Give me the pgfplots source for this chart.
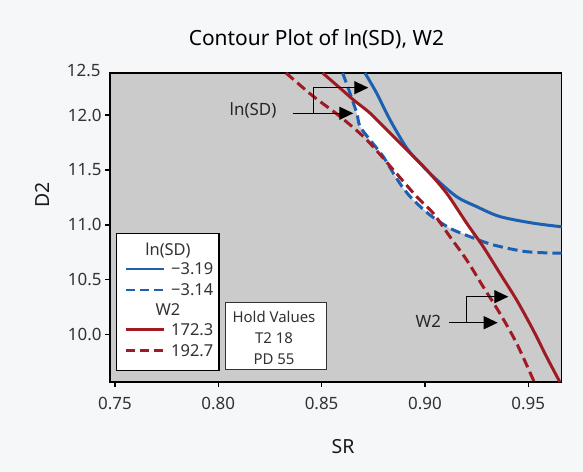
\documentclass[border=0pt]{standalone}
\usepackage{fontspec}
\setmainfont{Noto Sans}
\usepackage{pgfplots}
\pgfplotsset{compat=1.18}
\usetikzlibrary{arrows.meta}
\definecolor{bgout}{RGB}{246,247,249}
\definecolor{plotgray}{RGB}{203,203,203}
\definecolor{cblue}{RGB}{28,96,178}
\definecolor{cred}{RGB}{160,26,36}
\definecolor{txt}{RGB}{50,50,50}
\pgfplotstableread{
x y
0.8710 12.383
0.8766 12.201
0.8831 11.957
0.8912 11.699
0.8976 11.562
0.9040 11.440
0.9153 11.257
0.9250 11.166
0.9363 11.075
0.9524 11.015
0.9662 10.982
}\bluesolid
\pgfplotstableread{
x y
0.8602 12.383
0.8637 12.201
0.8670 12.018
0.8686 11.896
0.8734 11.775
0.8798 11.622
0.8847 11.471
0.8895 11.334
0.8944 11.227
0.9024 11.090
0.9121 10.969
0.9218 10.892
0.9331 10.817
0.9492 10.755
0.9662 10.741
}\bluedashed
\pgfplotstableread{
x y
0.8505 12.383
0.8589 12.246
0.8653 12.140
0.8734 12.018
0.8815 11.866
0.8912 11.683
0.9008 11.501
0.9105 11.288
0.9202 11.015
0.9282 10.801
0.9363 10.558
0.9444 10.315
0.9524 10.041
0.9589 9.797
0.9653 9.568
}\redsolid
\pgfplotstableread{
x y
0.8328 12.383
0.8460 12.170
0.8589 11.987
0.8718 11.775
0.8847 11.501
0.8960 11.257
0.9040 11.106
0.9121 10.892
0.9202 10.680
0.9282 10.436
0.9363 10.193
0.9444 9.920
0.9529 9.568
}\reddashed
\begin{document}
\begin{tikzpicture}
\fill[bgout] (-110bp,-90bp) rectangle (473bp,382bp);
\useasboundingbox (-110bp,-90bp) rectangle (473bp,382bp);
\begin{axis}[
  at={(0,0)}, anchor=south west,
  scale only axis, width=451.7bp, height=309bp,
  xmin=0.7476, xmax=0.9662, ymin=9.568, ymax=12.383,
  axis background/.style={fill=plotgray},
  axis line style={black, line width=1.4bp},
  tick align=outside, tick pos=left,
  major tick length=5bp,
  tick style={black, line width=1.4bp},
  xtick={0.75,0.80,0.85,0.90,0.95},
  ytick={10.0,10.5,11.0,11.5,12.0},
  xticklabel style={/pgf/number format/fixed, /pgf/number format/fixed zerofill, /pgf/number format/precision=2, yshift=-7bp},
  yticklabel style={/pgf/number format/fixed, /pgf/number format/fixed zerofill, /pgf/number format/precision=1},
  /pgf/number format/assume math mode=true,
  ticklabel style={font=\fontsize{17}{20}\selectfont, text=txt},
  xlabel={SR}, ylabel={D2},
  xlabel style={at={(axis description cs:0.516,-0.21)}, anchor=center, font=\fontsize{19.5}{22}\selectfont, text=black!90},
  ylabel style={at={(axis description cs:-0.1505,0.605)}, anchor=center, font=\fontsize{19.5}{22}\selectfont, text=black!90},
  title={Contour Plot of ln(SD), W2},
  title style={at={(axis description cs:0.457,1.0906)}, anchor=center, font=\fontsize{21}{24}\selectfont, text=black},
  clip=true,
]
\addplot[fill=white, draw=none] coordinates {
(0.8652,12.140) (0.8734,12.018) (0.8815,11.866) (0.8912,11.683) (0.9008,11.501)
(0.9105,11.288) (0.9202,11.015) (0.9225,10.930) (0.9232,10.885)
(0.9121,10.969) (0.9024,11.090) (0.8944,11.227) (0.8895,11.334) (0.8847,11.471)
(0.8798,11.622) (0.8734,11.775) (0.8686,11.896) (0.8670,12.018)} -- cycle;
\addplot[cblue, line width=3bp, smooth, tension=0.5] table[x=x,y=y] {\bluesolid};
\addplot[cblue, line width=3bp, smooth, tension=0.5, dash pattern=on 10bp off 5bp] table[x=x,y=y] {\bluedashed};
\addplot[cred, line width=3bp, smooth, tension=0.5] table[x=x,y=y] {\redsolid};
\addplot[cred, line width=3bp, smooth, tension=0.5, dash pattern=on 10bp off 5bp] table[x=x,y=y] {\reddashed};
\end{axis}
% 12.5 label at top
\node[anchor=east, text=txt, font=\fontsize{17}{20}\selectfont] at (-6bp,312bp) {12.5};
% annotations
\node[font=\fontsize{17}{20}\selectfont, text=black!85] at (143bp,272bp) {ln(SD)};
\draw[black, line width=1.3bp, -{Triangle[length=14bp,width=13bp]}] (182.7bp,268.7bp) -- (243.3bp,268.7bp);
\draw[black, line width=1.3bp, -{Triangle[length=14bp,width=13bp]}] (203.3bp,268.7bp) -- (203.3bp,294.3bp) -- (258.3bp,294.3bp);
\node[font=\fontsize{17}{20}\selectfont, text=black!85] at (318.3bp,61bp) {W2};
\draw[black, line width=1.3bp, -{Triangle[length=14bp,width=13bp]}] (339bp,59.3bp) -- (387.7bp,59.3bp);
\draw[black, line width=1.3bp, -{Triangle[length=14bp,width=13bp]}] (356.7bp,59.3bp) -- (356.7bp,85.3bp) -- (398.3bp,85.3bp);
% legend box
\draw[black, line width=1.3bp, fill=white] (6.7bp,11.3bp) rectangle (109bp,148.7bp);
\begin{scope}[every node/.style={font=\fontsize{16.5}{19}\selectfont, text=txt, inner sep=0pt}]
\node at (58bp,131bp) {ln(SD)};
\draw[cblue, line width=2.8bp] (16bp,113bp) -- (54.3bp,113bp);
\node[anchor=west] at (61bp,113bp) {−3.19};
\draw[cblue, line width=2.8bp, dash pattern=on 9bp off 5bp] (16bp,92bp) -- (54.3bp,92bp);
\node[anchor=west] at (61bp,92bp) {−3.14};
\node at (58bp,72bp) {W2};
\draw[cred, line width=2.8bp] (16bp,52.7bp) -- (54.3bp,52.7bp);
\node[anchor=west] at (61bp,52.7bp) {172.3};
\draw[cred, line width=2.8bp, dash pattern=on 9bp off 5bp] (16bp,31.3bp) -- (54.3bp,31.3bp);
\node[anchor=west] at (61bp,31.3bp) {192.7};
\end{scope}
% hold values box
\draw[black!80, line width=1bp, fill=white] (115.7bp,12bp) rectangle (216bp,79.7bp);
\begin{scope}[every node/.style={font=\fontsize{15}{18}\selectfont, text=txt, inner sep=0pt}]
\node at (164bp,65.3bp) {Hold Values};
\node at (164bp,44.3bp) {T2 18};
\node at (164bp,23bp) {PD 55};
\end{scope}
\end{tikzpicture}
\end{document}
